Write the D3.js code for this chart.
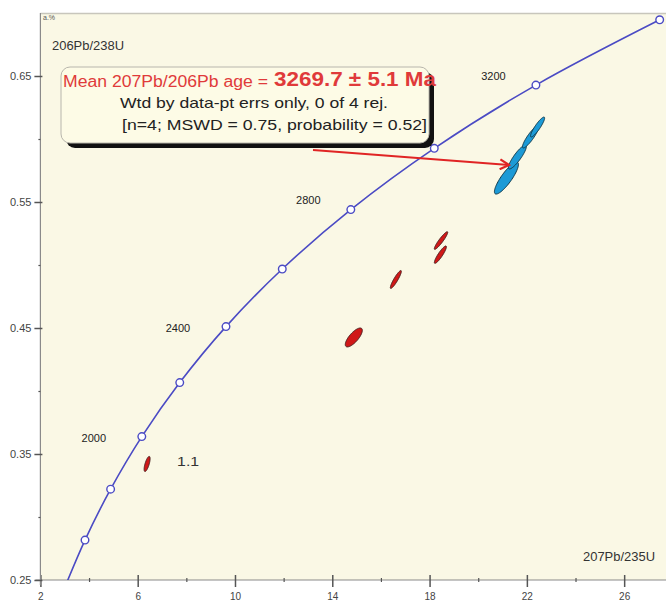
<!DOCTYPE html>
<html>
<head>
<meta charset="utf-8">
<script src="https://cdn.jsdelivr.net/npm/d3@7"></script>
<style>
  html, body { margin: 0; padding: 0; background: #ffffff; }
  svg { display: block; font-family: "Liberation Sans", Arial, sans-serif; }
</style>
</head>
<body>
<svg id="chart" width="666" height="601"></svg>
<script>
// Concordia reference points (age in Ma, 207Pb/235U, 206Pb/238U)
const concordiaAges = [1400, 1600, 1800, 2000, 2200, 2400, 2600, 2800, 3000, 3200, 3400];
const concordiaX = [2.970, 3.834, 4.887, 6.169, 7.729, 9.630, 11.944, 14.762, 18.193, 22.372, 27.460];
const concordiaY = [0.2426, 0.2817, 0.3221, 0.3638, 0.4067, 0.4511, 0.4968, 0.5440, 0.5926, 0.6428, 0.6946];
const labelledAges = [2000, 2400, 2800, 3200];

// Analyses: 207Pb/235U, 206Pb/238U, 2-sigma errors and error correlation
const spotIds = ["1.1", "2.1", "3.1", "4.1", "5.1", "6.1", "7.1", "8.1", "9.1"];
const ratio207_235 = [6.387, 14.885, 16.613, 18.444, 18.470, 21.160, 21.610, 22.150, 22.440];
const err207_235 = [0.123, 0.350, 0.226, 0.247, 0.275, 0.494, 0.370, 0.330, 0.290];
const ratio206_238 = [0.3421, 0.4425, 0.4885, 0.5082, 0.5194, 0.5690, 0.5857, 0.6016, 0.6095];
const err206_238 = [0.0060, 0.0075, 0.0071, 0.0069, 0.0070, 0.0127, 0.0095, 0.0087, 0.0079];
const errRho = [0.70, 0.75, 0.91, 0.90, 0.93, 0.854, 0.88, 0.89, 0.90];
const inMean = [false, false, false, false, false, true, true, true, true];

// Axis ticks
const xMajorTicks = [2, 6, 10, 14, 18, 22, 26];
const xMinorTicks = [4, 8, 12, 16, 20, 24];
const yMajorTicks = [0.25, 0.35, 0.45, 0.55, 0.65];
const yMinorTicks = [0.30, 0.40, 0.50, 0.60];

// Weighted mean result
const meanLabel = "Mean 207Pb/206Pb age =";
const meanValue = "3269.7 ± 5.1 Ma";
const meanLine2 = "Wtd by data-pt errs only, 0 of 4 rej.";
const meanLine3 = "[n=4; MSWD = 0.75, probability = 0.52]";

const svg = d3.select("#chart");
const plotLeft = 40.4, plotRight = 666, plotTop = 13, plotBottom = 580;

const x = d3.scaleLinear().domain([2, 27.72]).range([plotLeft, plotRight]);
const y = d3.scaleLinear().domain([0.25, 0.70]).range([plotBottom, plotTop]);

// plot background
svg.append("rect")
  .attr("x", plotLeft).attr("y", plotTop)
  .attr("width", plotRight - plotLeft).attr("height", plotBottom - plotTop)
  .attr("fill", "#faf8e5");
svg.append("line")
  .attr("x1", plotLeft).attr("x2", plotRight).attr("y1", plotTop + 0.5).attr("y2", plotTop + 0.5)
  .attr("stroke", "#c8c6bc").attr("stroke-width", 1.5);

svg.append("clipPath").attr("id", "plotClip")
  .append("rect").attr("x", plotLeft).attr("y", plotTop)
  .attr("width", plotRight - plotLeft).attr("height", plotBottom - plotTop);

// axes
const axisColor = "#8a8a8a";
const gx = svg.append("g").attr("transform", `translate(0,${plotBottom})`)
  .call(d3.axisBottom(x).tickValues(xMajorTicks).tickSize(7).tickFormat(d3.format("d")));
gx.selectAll(".tick line").attr("y1", -5).attr("y2", 7).attr("stroke", "#555").attr("stroke-width", 1.5);
gx.selectAll(".tick text").attr("y", 13).attr("font-size", 10).attr("fill", "#444");
gx.select(".domain").attr("stroke", axisColor).attr("stroke-width", 1.2).attr("d", `M${plotLeft - 5},0H${plotRight}`);

const gxm = svg.append("g").attr("transform", `translate(0,${plotBottom})`)
  .call(d3.axisBottom(x).tickValues(xMinorTicks).tickSize(2).tickFormat(""));
gxm.selectAll(".tick line").attr("y1", -2).attr("stroke", "#555").attr("stroke-width", 1.2);
gxm.select(".domain").remove();

const gy = svg.append("g").attr("transform", `translate(${plotLeft},0)`)
  .call(d3.axisLeft(y).tickValues(yMajorTicks).tickSize(6).tickFormat(d3.format(".2f")));
gy.selectAll(".tick line").attr("x1", 2).attr("x2", -6).attr("stroke", "#555").attr("stroke-width", 1.5);
gy.selectAll(".tick text").attr("x", -9).attr("font-size", 11).attr("fill", "#444");
gy.select(".domain").attr("stroke", axisColor).attr("stroke-width", 1.2).attr("d", `M0,${plotTop}V${plotBottom + 5}`);

const gym = svg.append("g").attr("transform", `translate(${plotLeft},0)`)
  .call(d3.axisLeft(y).tickValues(yMinorTicks).tickSize(2).tickFormat(""));
gym.selectAll(".tick line").attr("stroke", "#555").attr("stroke-width", 1.2);
gym.select(".domain").remove();

// axis titles
svg.append("text").attr("x", 43).attr("y", 20).attr("font-size", 7).attr("fill", "#555").text("a.%");
svg.append("text").attr("x", 52).attr("y", 50).attr("font-size", 12).attr("fill", "#333")
  .attr("textLength", 72).attr("lengthAdjust", "spacingAndGlyphs").text("206Pb/238U");
svg.append("text").attr("x", 583).attr("y", 561).attr("font-size", 12).attr("fill", "#333")
  .attr("textLength", 72).attr("lengthAdjust", "spacingAndGlyphs").text("207Pb/235U");

const plot = svg.append("g").attr("clip-path", "url(#plotClip)");

// concordia curve
const concordia = concordiaAges.map((a, i) => ({ age: a, x: concordiaX[i], y: concordiaY[i] }));
plot.append("path")
  .datum(concordia)
  .attr("fill", "none")
  .attr("stroke", "#4b4bc4")
  .attr("stroke-width", 1.6)
  .attr("d", d3.line().x(d => x(d.x)).y(d => y(d.y)).curve(d3.curveCatmullRom));

// error ellipses
const spots = spotIds.map((id, i) => ({
  id, x: ratio207_235[i], sx: err207_235[i], y: ratio206_238[i], sy: err206_238[i],
  rho: errRho[i], used: inMean[i]
}));
const ellipsePath = d3.line().x(p => x(p[0])).y(p => y(p[1])).curve(d3.curveLinearClosed);
const angles = d3.range(0, 2 * Math.PI, Math.PI / 40);
function ellipsePoints(s) {
  const k = Math.sqrt(1 - s.rho * s.rho);
  return angles.map(t => [s.x + s.sx * Math.cos(t), s.y + s.sy * (s.rho * Math.cos(t) + k * Math.sin(t))]);
}
plot.selectAll("path.spot")
  .data(spots)
  .join("path")
  .attr("class", "spot")
  .attr("d", s => ellipsePath(ellipsePoints(s)))
  .attr("fill", s => s.used ? "#1c9ad6" : "#d01818")
  .attr("stroke", s => s.used ? "#123a4a" : "#4a2020")
  .attr("stroke-width", 1);

// concordia age markers
plot.selectAll("circle.age")
  .data(concordia)
  .join("circle")
  .attr("class", "age")
  .attr("cx", d => x(d.x)).attr("cy", d => y(d.y))
  .attr("r", 3.8)
  .attr("fill", "#ffffff")
  .attr("stroke", "#4b4bc4")
  .attr("stroke-width", 1.4);

// age labels sit left of the curve; higher on its flatter upper part
plot.selectAll("text.age")
  .data(concordia.filter(d => labelledAges.includes(d.age)))
  .join("text")
  .attr("class", "age")
  .attr("x", d => x(d.x) + (d.age < 2600 ? -48 : -42.5))
  .attr("y", d => y(d.y) + (d.age < 2600 ? 5 : -5.5))
  .attr("font-size", 11).attr("fill", "#222")
  .attr("text-anchor", "middle")
  .text(d => d.age);

// spot label
const firstSpot = spots[0];
svg.append("text")
  .attr("x", x(firstSpot.x) + 30).attr("y", y(firstSpot.y) + 2)
  .attr("font-size", 13).attr("fill", "#333")
  .attr("textLength", 22).attr("lengthAdjust", "spacingAndGlyphs")
  .text(firstSpot.id);

// arrow from the result box to the mean cluster
const defs = svg.append("defs");
defs.append("marker").attr("id", "arrowHead")
  .attr("viewBox", "0 0 12 12").attr("refX", 10).attr("refY", 6)
  .attr("markerWidth", 12).attr("markerHeight", 12).attr("markerUnits", "userSpaceOnUse")
  .attr("orient", "auto")
  .append("path").attr("d", "M1,1L10,6L1,11")
  .attr("fill", "none").attr("stroke", "#e02424").attr("stroke-width", 2.2);
svg.append("line")
  .attr("x1", 313).attr("y1", 150).attr("x2", 509).attr("y2", 165)
  .attr("stroke", "#e02424").attr("stroke-width", 2)
  .attr("marker-end", "url(#arrowHead)");

// result box
const box = svg.append("g");
box.append("rect").attr("x", 66).attr("y", 72).attr("width", 368).attr("height", 76)
  .attr("rx", 9).attr("fill", "#111");
box.append("rect").attr("x", 61).attr("y", 67).attr("width", 368).attr("height", 76)
  .attr("rx", 9).attr("fill", "#fdfbe6").attr("stroke", "#b8b6ac").attr("stroke-width", 1);

box.append("text").attr("x", 63).attr("y", 87).attr("fill", "#e03a3a")
  .attr("font-size", 16).attr("textLength", 205).attr("lengthAdjust", "spacingAndGlyphs")
  .text(meanLabel);
box.append("text").attr("x", 274).attr("y", 86).attr("fill", "#e03a3a")
  .attr("font-size", 19.5).attr("font-weight", "bold")
  .attr("textLength", 162).attr("lengthAdjust", "spacingAndGlyphs")
  .text(meanValue);
box.append("text").attr("x", 120).attr("y", 108).attr("font-size", 14.5).attr("fill", "#222")
  .attr("textLength", 268).attr("lengthAdjust", "spacingAndGlyphs").text(meanLine2);
box.append("text").attr("x", 122).attr("y", 130).attr("font-size", 14.5).attr("fill", "#222")
  .attr("textLength", 305).attr("lengthAdjust", "spacingAndGlyphs").text(meanLine3);
</script>
</body>
</html>
